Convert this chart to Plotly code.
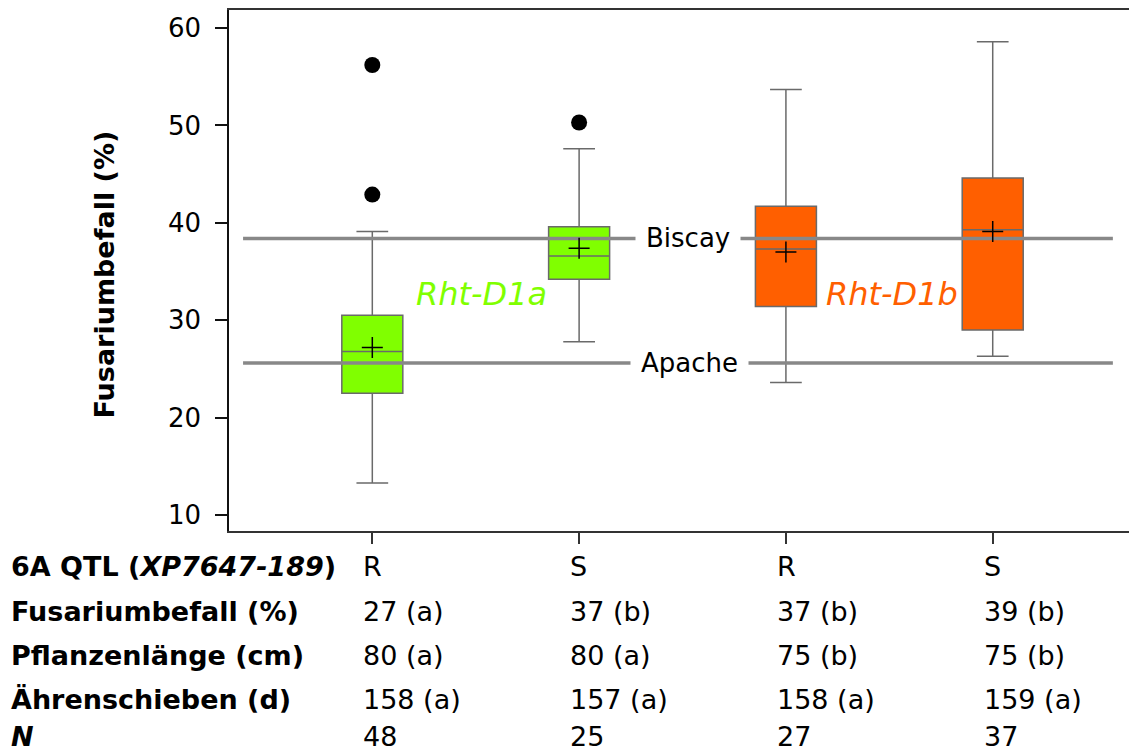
import plotly.graph_objects as go

# ---- data ----
groups = ["R (Rht-D1a)", "S (Rht-D1a)", "R (Rht-D1b)", "S (Rht-D1b)"]
box_colors = ["#80FF00", "#80FF00", "#FF5F00", "#FF5F00"]
lower_fence = [13.3, 27.8, 23.6, 26.3]
q1 = [22.5, 34.2, 31.4, 29.0]
median = [26.8, 36.6, 37.3, 39.3]
q3 = [30.5, 39.6, 41.7, 44.6]
upper_fence = [39.1, 47.6, 53.7, 58.6]
means = [27.2, 37.4, 37.0, 39.1]
outliers = [[42.9, 56.2], [50.3], [], []]

ref_names = ["Biscay", "Apache"]
ref_values = [38.4, 25.6]

qtl_labels = ["R", "S", "R", "S"]
fus_labels = ["27 (a)", "37 (b)", "37 (b)", "39 (b)"]
height_labels = ["80 (a)", "80 (a)", "75 (b)", "75 (b)"]
heading_labels = ["158 (a)", "157 (a)", "158 (a)", "159 (a)"]
n_labels = ["48", "25", "27", "37"]
row_titles = ["<b>6A QTL (<i>XP7647-189</i>)</b>", "<b>Fusariumbefall (%)</b>",
              "<b>Pflanzenlänge (cm)</b>", "<b>Ährenschieben (d)</b>", "<b><i>N</i></b>"]
allele_labels = ["Rht-D1a", "Rht-D1b"]
allele_colors = ["#80FF00", "#FF5F00"]

FONT = "Verdana, DejaVu Sans, sans-serif"
TXT = "#000000"
fig = go.Figure()

xs = list(range(len(groups)))
for i in xs:
    fig.add_trace(go.Box(
        x=[i], q1=[q1[i]], median=[median[i]], q3=[q3[i]],
        lowerfence=[lower_fence[i]], upperfence=[upper_fence[i]],
        width=0.295, whiskerwidth=0.52, fillcolor=box_colors[i],
        line=dict(color="#6a6a6a", width=1.5), boxpoints=False,
        showlegend=False, hoverinfo="skip"))

# reference lines
for v in ref_values:
    fig.add_trace(go.Scatter(x=[-0.625, 3.581], y=[v, v], mode="lines",
                             line=dict(color="#888888", width=3.5),
                             showlegend=False, hoverinfo="skip"))

# means
fig.add_trace(go.Scatter(x=xs, y=means, mode="markers",
                         marker=dict(symbol="cross-thin", size=15,
                                     line=dict(color="black", width=1.5)),
                         showlegend=False, hoverinfo="skip"))
# outliers
ox, oy = [], []
for i, vals in enumerate(outliers):
    for v in vals:
        ox.append(i)
        oy.append(v)
fig.add_trace(go.Scatter(x=ox, y=oy, mode="markers",
                         marker=dict(symbol="circle", size=16, color="black"),
                         showlegend=False, hoverinfo="skip"))

ann = []
# reference labels
ann.append(dict(x=1.527, y=ref_values[0], xref="x", yref="y", text=ref_names[0],
                showarrow=False, bgcolor="white", borderpad=10,
                font=dict(size=26, color=TXT, family=FONT)))
ann.append(dict(x=1.534, y=ref_values[1], xref="x", yref="y", text=ref_names[1],
                showarrow=False, bgcolor="white", borderpad=10,
                font=dict(size=26, color=TXT, family=FONT)))
# allele labels
for xpos, t, c in zip([0.526, 2.513], allele_labels, allele_colors):
    ann.append(dict(x=xpos, y=32.7, xref="x", yref="y", text="<i>" + t + "</i>",
                    showarrow=False, font=dict(size=32, color=c, family=FONT)))

# y axis title
ann.append(dict(x=(86 - 229) / 900, y=(531 - 275) / 521, xref="paper", yref="paper",
                text="<b>Fusariumbefall (%)</b>", textangle=-90, showarrow=False,
                font=dict(size=27, color=TXT, family=FONT)))

# table
row_pix = [566, 611, 655, 699, 737]
rows = [qtl_labels, fus_labels, height_labels, heading_labels, n_labels]
for r, (py, title, vals) in enumerate(zip(row_pix, row_titles, rows)):
    yp = (531 - py) / 521
    ann.append(dict(x=(9 - 229) / 900, y=yp, xref="paper", yref="paper", text=title,
                    xanchor="left", yanchor="middle", showarrow=False,
                    font=dict(size=27, color=TXT, family=FONT)))
    for i, v in enumerate(vals):
        ann.append(dict(x=i - 11 / 206.8, y=yp, xref="x", yref="paper", text=v,
                        xanchor="left", yanchor="middle", showarrow=False,
                        font=dict(size=27, color=TXT, family=FONT)))

fig.update_layout(
    width=1129, height=753,
    margin=dict(l=229, r=0, t=10, b=222),
    paper_bgcolor="white", plot_bgcolor="white",
    font=dict(family=FONT, size=26, color=TXT),
    annotations=ann,
    xaxis=dict(range=[-0.693, 3.659], tickvals=xs, showticklabels=False,
               ticks="outside", ticklen=11, tickcolor="#333333", tickwidth=1.5,
               showline=True, linecolor="#333333", linewidth=2, mirror=True,
               showgrid=False, zeroline=False),
    yaxis=dict(range=[8.36, 61.85], tickvals=[10, 20, 30, 40, 50, 60],
               ticks="outside", ticklen=12, tickcolor="#111111", tickwidth=1.5,
               ticklabelstandoff=9,
               showline=True, linecolor="#111111", linewidth=1.5, mirror=False,
               showgrid=False, zeroline=False, tickfont=dict(size=26)),
)

fig.write_html("out.html")
